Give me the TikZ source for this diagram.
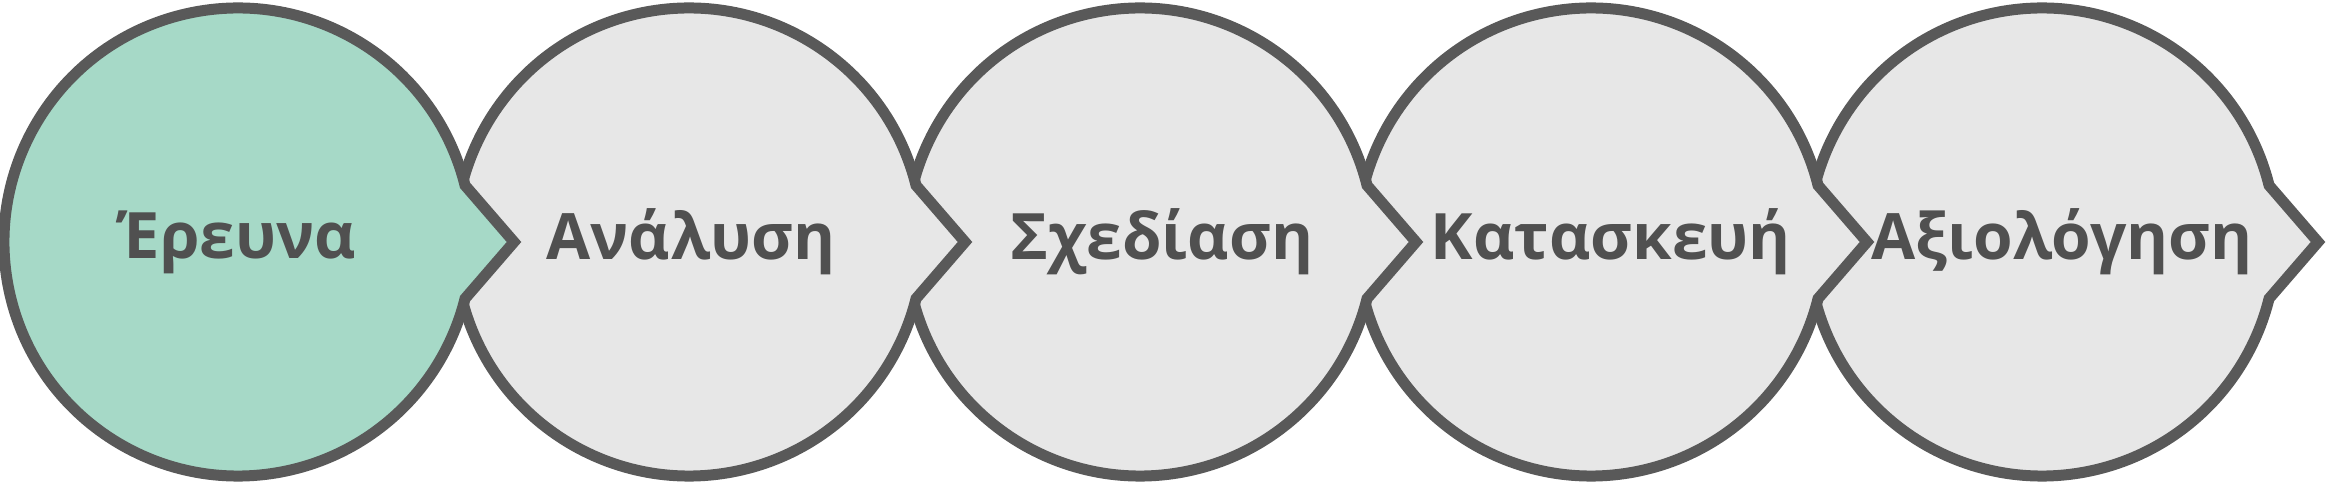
\documentclass[tikz,border=0pt]{standalone}
\usepackage{fontspec}
\setmainfont{Open Sans}
\definecolor{contour}{HTML}{595959}
\definecolor{vert}{HTML}{A6D9C7}
\definecolor{gris}{HTML}{E7E7E7}
\definecolor{texte}{HTML}{505050}
\tikzset{
  bulle/.style={draw=contour,line width=11pt,line join=miter},
  etiquette/.style={text=texte,font=\bfseries\fontsize{64}{76}\selectfont,inner sep=0pt}
}
\begin{document}
\begin{tikzpicture}[x=1pt,y=1pt]
  \useasboundingbox (0,0) rectangle (2328,484);
  \foreach \n/\lab/\fc/\dx in {5/Αξιολόγηση/gris/20,4/Κατασκευή/gris/20,3/Σχεδίαση/gris/22,2/Ανάλυση/gris/2,1/Έρευνα/vert/0}{
    \pgfmathsetmacro{\cx}{238+451*(\n-1)}
    \draw [bulle,fill=\fc] (\cx,242) ++(14:234) arc[start angle=14,end angle=346,radius=234pt] -- (\cx+276,242) -- cycle;%bulle avec pointe
    \node [etiquette] (phase\n) at (\cx+\dx,242) {\lab};
  }
\end{tikzpicture}
\end{document}
